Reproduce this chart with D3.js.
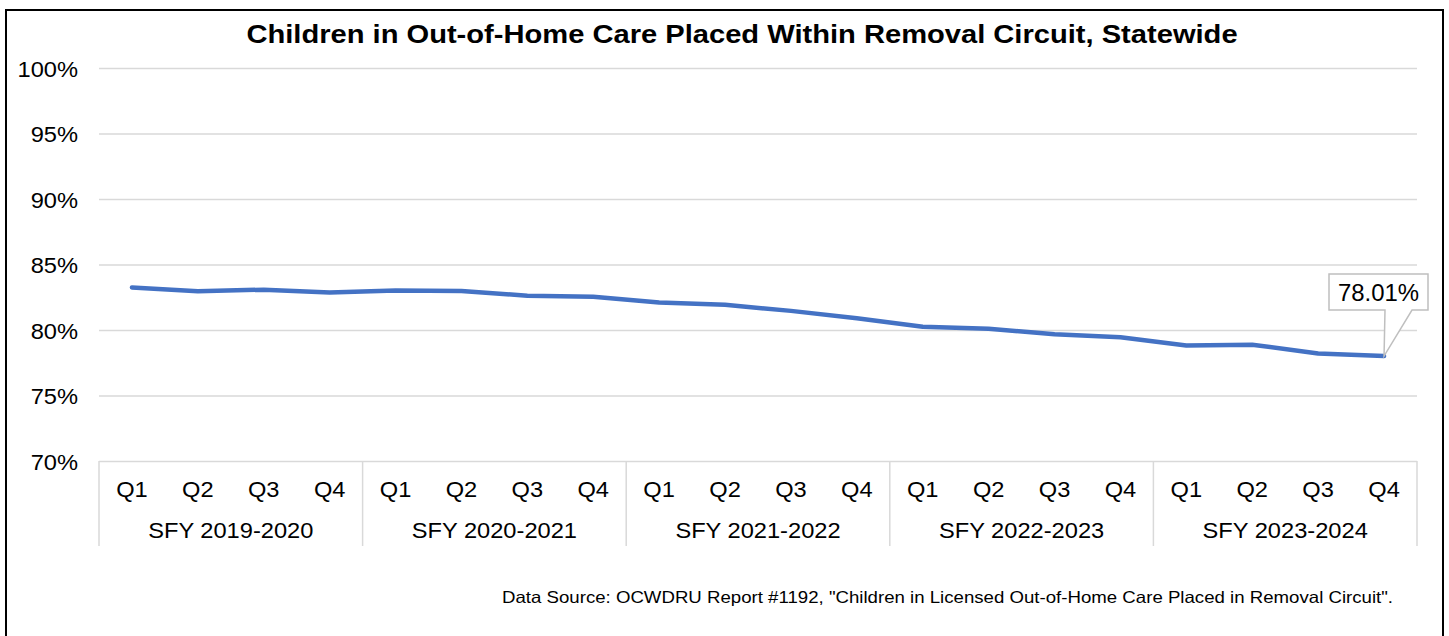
<!DOCTYPE html>
<html>
<head>
<meta charset="utf-8">
<script src="https://cdn.jsdelivr.net/npm/d3@7/dist/d3.min.js"></script>
<style>
  html, body { margin: 0; padding: 0; background: #fff; }
  svg { display: block; }
  text { font-family: "Liberation Sans", Arial, sans-serif; fill: #000; }
</style>
</head>
<body>
<svg id="chart" width="1449" height="636"></svg>
<script>
// Fiscal years (outer axis level) and quarters (inner level)
const fiscalYears = ["SFY 2019-2020", "SFY 2020-2021", "SFY 2021-2022", "SFY 2022-2023", "SFY 2023-2024"];
const quarters = ["Q1", "Q2", "Q3", "Q4"];

// Percent of children placed within the removal circuit, one value per quarter
const sfy2019 = [83.25, 82.95, 83.08, 82.87];
const sfy2020 = [83.02, 82.98, 82.62, 82.54];
const sfy2021 = [82.10, 81.92, 81.46, 80.90];
const sfy2022 = [80.25, 80.10, 79.67, 79.45];
const sfy2023 = [78.82, 78.88, 78.21, 78.01];

const yTicks = [70, 75, 80, 85, 90, 95, 100];
const titleText = "Children in Out-of-Home Care Placed Within Removal Circuit, Statewide";
const sourceText = "Data Source: OCWDRU Report #1192, \"Children in Licensed Out-of-Home Care Placed in Removal Circuit\".";

const seriesByYear = [sfy2019, sfy2020, sfy2021, sfy2022, sfy2023];
const points = [];
fiscalYears.forEach((fy, i) => {
  quarters.forEach((q, j) => {
    points.push({ key: fy + "|" + q, year: fy, quarter: q, value: seriesByYear[i][j] });
  });
});

const svg = d3.select("#chart");
const plot = { left: 99, right: 1417, top: 68, bottom: 461 };

// Widen text horizontally around its anchor point
function stretch(sel, sx) {
  sel.each(function () {
    const t = d3.select(this);
    const x = +t.attr("x") || 0, y = +t.attr("y") || 0;
    t.attr("transform", `translate(${x},${y}) scale(${sx},1) translate(${-x},${-y})`);
  });
}

// Outer frame
svg.append("rect")
  .attr("x", 6).attr("y", 10).attr("width", 1437).attr("height", 640)
  .attr("fill", "#fff").attr("stroke", "#000").attr("stroke-width", 2);

const x = d3.scaleBand().domain(points.map(d => d.key)).range([plot.left, plot.right]).padding(0);
const xYear = d3.scaleBand().domain(fiscalYears).range([plot.left, plot.right]).padding(0);
const y = d3.scaleLinear().domain([70, 100]).range([plot.bottom, plot.top]);

// Horizontal gridlines and y labels
const yAxis = svg.append("g")
  .attr("transform", `translate(${plot.left},0)`)
  .call(d3.axisLeft(y).tickValues(yTicks).tickSize(-(plot.right - plot.left)).tickPadding(0)
    .tickFormat(d => d + "%"));
yAxis.select(".domain").remove();
yAxis.selectAll(".tick line").attr("stroke", "#d9d9d9").attr("stroke-width", 1.5);
yAxis.selectAll(".tick text")
  .attr("x", -21).attr("y", 8).attr("dy", null)
  .attr("font-size", 21.5).attr("font-family", "Liberation Sans, Arial, sans-serif")
  .attr("fill", "#000").attr("text-anchor", "end")
  .call(stretch, 1.1);

// Category axis: separators between fiscal years
const sepX = fiscalYears.map(fy => xYear(fy)).concat([plot.right]);
svg.append("g").selectAll("line").data(sepX).join("line")
  .attr("x1", d => d).attr("x2", d => d)
  .attr("y1", plot.bottom).attr("y2", 546)
  .attr("stroke", "#d9d9d9").attr("stroke-width", 1.5);

// Quarter labels
svg.append("g").selectAll("text").data(points).join("text")
  .attr("x", d => x(d.key) + x.bandwidth() / 2)
  .attr("y", 497)
  .attr("text-anchor", "middle").attr("font-size", 21.5)
  .text(d => d.quarter)
  .call(stretch, 1.1);

// Fiscal year labels
svg.append("g").selectAll("text").data(fiscalYears).join("text")
  .attr("x", d => xYear(d) + xYear.bandwidth() / 2)
  .attr("y", 538)
  .attr("text-anchor", "middle").attr("font-size", 21.5)
  .text(d => d)
  .call(stretch, 1.1);

// Trend line
const line = d3.line()
  .x(d => x(d.key) + x.bandwidth() / 2)
  .y(d => y(d.value));
svg.append("path")
  .datum(points)
  .attr("d", line)
  .attr("fill", "none")
  .attr("stroke", "#4472C4")
  .attr("stroke-width", 4.5)
  .attr("stroke-linejoin", "round")
  .attr("stroke-linecap", "round");

// Callout for the latest quarter
const last = points[points.length - 1];
const lx = x(last.key) + x.bandwidth() / 2, ly = y(last.value);
const box = { x0: 1329, y0: 274, x1: 1428, y1: 310 };
const callout = svg.append("g");
callout.append("path")
  .attr("d", `M${box.x0},${box.y0} H${box.x1} V${box.y1} H1412 L${lx},${ly} L1385,${box.y1} H${box.x0} Z`)
  .attr("fill", "#fff").attr("stroke", "#bfbfbf").attr("stroke-width", 1.5);
callout.append("text")
  .attr("x", (box.x0 + box.x1) / 2).attr("y", 301)
  .attr("text-anchor", "middle").attr("font-size", 23)
  .text(last.value.toFixed(2) + "%")
  .call(stretch, 1.04);

// Title
svg.append("text")
  .attr("x", 742).attr("y", 43)
  .attr("text-anchor", "middle").attr("font-size", 25).attr("font-weight", "bold")
  .text(titleText)
  .call(stretch, 1.165);

// Source note
svg.append("text")
  .attr("x", 502).attr("y", 603)
  .attr("font-size", 16.5)
  .text(sourceText)
  .call(stretch, 1.13);
</script>
</body>
</html>
